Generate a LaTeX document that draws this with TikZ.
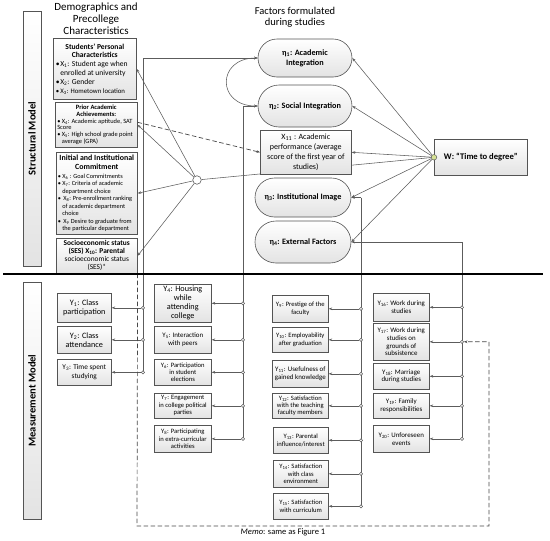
\documentclass[tikz,border=0pt]{standalone}
\usepackage{fontspec}
\setmainfont{Carlito}
\usetikzlibrary{arrows.meta,calc,shapes.misc}
\definecolor{lnc}{gray}{0.36}
\definecolor{bxc}{gray}{0.33}
\definecolor{dsc}{gray}{0.28}
\definecolor{wdot}{RGB}{214,226,148}
\newcommand{\bul}{\makebox[4.5pt][l]{\textbullet}}
\newcommand{\sbs}[1]{\textsubscript{#1}}
\newcommand{\hd}[2]{\makebox[78pt]{\fontsize{#1}{8}\selectfont\bfseries #2}}
\newcommand{\fYa}{\fontsize{8.2}{9.2}\selectfont}
\newcommand{\fYb}{\fontsize{6.9}{7.8}\selectfont}
\newcommand{\fYc}{\fontsize{6.6}{7.4}\selectfont}
\tikzset{
  shade box/.style={draw=bxc, line width=0.6pt, top color=white, bottom color=gray!22},
  lbox/.style={shade box, anchor=north west, inner sep=1.5pt},
  ybox/.style={shade box, anchor=north west, inner sep=1pt, align=center},
  etanode/.style={shade box, shape=rounded rectangle, align=center, inner sep=1pt, font=\fontsize{8.2}{9.8}\selectfont\bfseries},
  ln/.style={draw=lnc, line width=0.55pt},
  arr/.style={ln, -{Stealth[length=3.6pt,width=2.6pt]}},
  dsh/.style={draw=dsc, line width=0.7pt, dash pattern=on 4.5pt off 2.5pt},
  odot/.style={circle, draw=lnc, fill=white, inner sep=0pt, minimum size=3.2pt, line width=0.5pt},
}
\newcommand{\Ybox}[7]{\node[ybox, minimum width=#4pt, minimum height=#5pt, font=#6] (#1) at (#2,#3) {#7};}
\begin{document}
\begin{tikzpicture}[x=1pt,y=-1pt]
\useasboundingbox (0,0) rectangle (550,541);
% titles
\node[font=\fontsize{11}{12}\selectfont, align=center] (t1) at (96,19) {Demographics and\\Precollege\\Characteristics};
\node[font=\fontsize{10.5}{11.5}\selectfont, align=center] (t2) at (295,17.5) {Factors formulated\\during studies};
% side labels
\node[shade box, rotate=90, minimum width=255pt, minimum height=18pt, inner sep=0pt, font=\fontsize{10.5}{12}\selectfont\bfseries] (sm) at (32,138.5) {Structural Model};
\node[shade box, rotate=90, minimum width=237pt, minimum height=18pt, inner sep=0pt, font=\fontsize{10.5}{12}\selectfont\bfseries] (mm) at (32,400.5) {Measurement Model};
% left boxes
\node[lbox, minimum width=83pt, minimum height=61pt, align=left, font=\fontsize{7.6}{8.8}\selectfont] (b1) at (53,38) {%
 \hd{7.6}{Students’ Personal}\\
 \hd{7.6}{Characteristics}\\
 \bul X\sbs{1}: Student age when\\
 \hspace*{4.5pt}enrolled at university\\
 \bul X\sbs{2}: Gender\\
 {\fontsize{6.8}{8}\selectfont\bul X\sbs{3}: Hometown location}};
\node[lbox, inner sep=1pt, minimum width=82pt, minimum height=45pt, align=left, font=\fontsize{6.4}{6.9}\selectfont] (b2) at (55,102) {%
 \hd{6.5}{Prior Academic}\\
 \hd{6.5}{Achievements:}\\
 \bul X\sbs{4}: Academic aptitude, SAT\\
 Score\\
 \bul X\sbs{5}: High school grade point\\
 \hspace*{4.5pt}average (GPA)};
\node[lbox, minimum width=81pt, minimum height=82pt, align=left, font=\fontsize{6.3}{7.5}\selectfont] (b3) at (56,152) {%
 \hd{7.9}{Initial and Institutional}\\[1.4pt]
 \hd{7.9}{Commitment}\\[1.2pt]
 \bul X\sbs{6} : Goal Commitments\\
 \bul X\sbs{7}: Criteria of academic\\
 \hspace*{4.5pt}department choice\\
 \bul\,X\sbs{8}: Pre-enrollment ranking\\
 \hspace*{4.5pt}of academic department\\
 \hspace*{4.5pt}choice\\
 \bul\,X\sbs{9} Desire to graduate from\\
 \hspace*{4.5pt}the particular department};
\node[lbox, minimum width=81pt, minimum height=35pt, align=center, font=\fontsize{7.4}{8}\selectfont] (b4) at (56,238) {%
 \textbf{Socioeconomic status}\\\textbf{(SES) X\sbs{10}: Parental}\\socioeconomic status\\(SES)*};
% eta nodes
\node[etanode, minimum width=96pt, minimum height=38pt] (e1) at (305,58) {η\sbs{1}: Academic\\Integration};
\node[etanode, minimum width=96pt, minimum height=42pt] (e2) at (305,106) {η\sbs{2}: Social Integration};
\node[etanode, minimum width=98pt, minimum height=39pt] (e3) at (303,197.5) {η\sbs{3}: Institutional Image};
\node[etanode, minimum width=98pt, minimum height=42pt] (e4) at (303,242) {η\sbs{4}: External Factors};
% W
\node[shade box, anchor=north west, minimum width=93pt, minimum height=36pt, font=\fontsize{8.6}{10}\selectfont\bfseries] (w) at (434,139) {W: “Time to degree”};
\node[circle, draw=lnc, fill=wdot, minimum size=5.5pt, inner sep=0pt, line width=0.5pt] (wc) at (w.west) {};
\node[circle, draw=lnc, fill=white, minimum size=8.5pt, inner sep=0pt, line width=0.6pt] (hub) at (197,180) {};
\draw[ln] (hub) -- (wc);
% X11
\node[lbox, minimum width=91pt, minimum height=44pt, align=center, font=\fontsize{8}{10.1}\selectfont] (x11) at (260,130) {X\sbs{11} : Academic\\performance (average\\score of the first year of\\studies)};
% hub arrows
\draw[arr] (hub) -- (b1.east);
\draw[arr] (hub) -- (b2.east);
\draw[arr] (hub) -- (b3.east);
\draw[arr] (hub) -- (b4.east);
\draw[dsh, -{Stealth[length=3.6pt,width=2.6pt]}] ([yshift=2.5pt]b2.east) -- (x11.west);
% W arrows
\draw[arr] (wc) -- (e1.east);
\draw[arr] (wc) -- (e2.east);
\draw[arr] (wc) -- (x11.east);
\draw[arr] (wc) -- (e3.east);
\draw[arr] (wc) -- (e4.east);
% correlation
\draw[ln, {Stealth[length=3.6pt,width=2.6pt]}-{Stealth[length=3.6pt,width=2.6pt]}] (e1.west) to[out=180,in=180,looseness=2.2] (e2.west);
% measurement boxes
\Ybox{Y1}{57}{293}{54}{29}{\fYa}{Y\sbs{1}: Class\\participation}
\Ybox{Y2}{57}{326}{54}{27}{\fYa}{Y\sbs{2}: Class\\attendance}
\Ybox{Y3}{57}{359}{54}{26}{\fontsize{7.3}{8.6}\selectfont}{Y\sbs{3}: Time spent\\studying}
\Ybox{Y4}{154}{284}{57}{38}{\fontsize{8.2}{9}\selectfont}{Y\sbs{4}: Housing\\while\\attending\\college}
\Ybox{Y5}{154}{326}{57}{27}{\fYb}{Y\sbs{5}: Interaction\\with peers}
\Ybox{Y6}{154}{359}{57}{26}{\fYc}{Y\sbs{6}: Participation\\in student\\elections}
\Ybox{Y7}{154}{393}{57}{25}{\fYc}{Y\sbs{7}: Engagement\\in college political\\parties}
\Ybox{Y8}{154}{425}{57}{27}{\fYc}{Y\sbs{8}: Participating\\in extra-curricular\\activities}
\Ybox{Y9}{272}{295}{56}{27}{\fYc}{Y\sbs{9}: Prestige of the\\faculty}
\Ybox{Y10}{272}{327}{56}{25}{\fYc}{Y\sbs{10}: Employability\\after graduation}
\Ybox{Y11}{272}{360}{56}{27}{\fYb}{Y\sbs{11}: Usefulness of\\gained knowledge}
\Ybox{Y12}{272}{393}{56}{25}{\fYc}{Y\sbs{12}: Satisfaction\\with the teaching\\faculty members}
\Ybox{Y13}{273}{427}{55}{26}{\fYc}{Y\sbs{13}: Parental\\influence/interest}
\Ybox{Y14}{273}{460}{55}{27}{\fYc}{Y\sbs{14}: Satisfaction\\with class\\environment}
\Ybox{Y15}{273}{493}{55}{26}{\fYc}{Y\sbs{15}: Satisfaction\\with curriculum}
\Ybox{Y16}{373}{293}{56}{28}{\fYb}{Y\sbs{16}: Work during\\studies}
\Ybox{Y17}{373}{323}{56}{37}{\fYb}{Y\sbs{17}: Work during\\studies on\\grounds of\\subsistence}
\Ybox{Y18}{373}{363}{56}{26}{\fYb}{Y\sbs{18}: Marriage\\during studies}
\Ybox{Y19}{373}{393}{56}{25}{\fYb}{Y\sbs{19}: Family\\responsibilities}
\Ybox{Y20}{373}{425}{56}{27}{\fYb}{Y\sbs{20}: Unforeseen\\events}
% vertical connectors
\coordinate (a0) at (143,58);
\coordinate (b0) at (243,106);
\coordinate (g0) at (361,197.5);
\coordinate (h0) at (462,242);
\draw[arr] (a0) -- (e1.west);
\draw[arr] (b0) -- (e2.west);
\draw[arr] (g0) -- (e3.east);
\draw[arr] (h0) -- (e4.east);
\draw[ln] (a0) -- (Y3.east -| a0);
\draw[ln] (b0) -- (Y8.east -| b0);
\draw[ln] (g0) -- (Y15.east -| g0);
\draw[ln] (h0) -- (Y20.east -| h0);
\foreach \n in {1,2,3} {\node[odot] (c\n) at (Y\n.east -| a0) {}; \draw[arr] (c\n) -- (Y\n.east);}
\foreach \n in {4,...,8} {\node[odot] (c\n) at (Y\n.east -| b0) {}; \draw[arr] (c\n) -- (Y\n.east);}
\foreach \n in {9,...,15} {\node[odot] (c\n) at (Y\n.east -| g0) {}; \draw[arr] (c\n) -- (Y\n.east);}
\foreach \n in {16,...,20} {\node[odot] (c\n) at (Y\n.east -| h0) {}; \draw[arr] (c\n) -- (Y\n.east);}
% dashed memo path
\coordinate (q1) at (137,526);
\coordinate (q2) at (489,526);
\draw[dsh, -{Stealth[length=3.6pt,width=2.6pt]}] (b4.south east) -- (q1) -- (q2) |- (c17);
% heavy separator
\coordinate (hl1) at (3,274);
\coordinate (hl2) at (543,274);
\draw[line width=2.8pt] (hl1) -- (hl2);
\node[font=\fontsize{8.5}{10}\selectfont] (memo) at (283,532) {\textit{Memo}: same as Figure 1};
\end{tikzpicture}
\end{document}
